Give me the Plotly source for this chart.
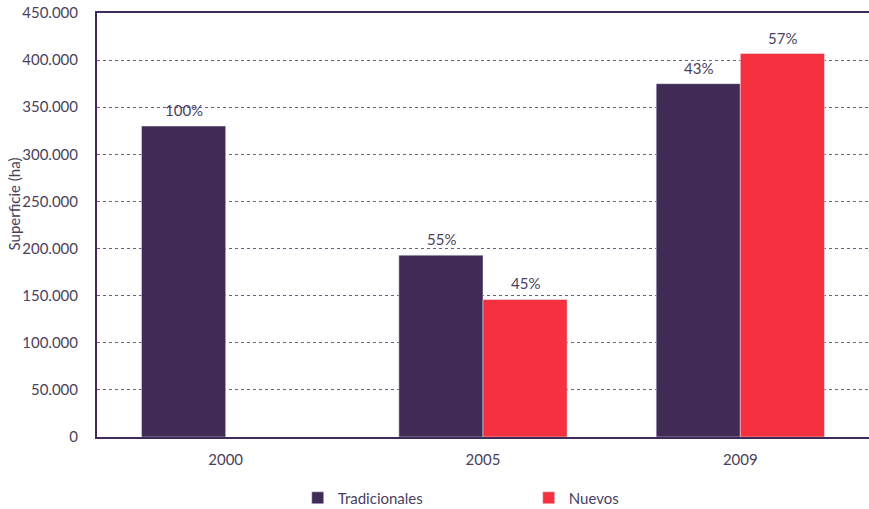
import plotly.graph_objects as go

years = ["2000", "2005", "2009"]
tradicionales = [330000, 193000, 375000]
nuevos = [None, 146000, 407000]
trad_labels = ["100%", "55%", "43%"]
nuevos_labels = ["", "45%", "57%"]
y_ticks = [0, 50000, 100000, 150000, 200000, 250000, 300000, 350000, 400000, 450000]

PURPLE = "#3F2B56"
RED = "#F5303F"
TEXT = "#4A3F5C"
FONT = "Lato"

fig = go.Figure()
fig.add_trace(go.Bar(name="Tradicionales", x=years, y=tradicionales, marker_color=PURPLE))
fig.add_trace(go.Bar(name="Nuevos", x=years, y=nuevos, marker_color=RED))

# value labels above the bars (x given as category index)
for i, (v, lab) in enumerate(zip(tradicionales, trad_labels)):
    if v is not None and lab:
        fig.add_annotation(x=i, y=v, text=lab, showarrow=False, xshift=-42,
                           yanchor="bottom", yshift=5,
                           font=dict(family=FONT, size=15, color=TEXT))
for i, (v, lab) in enumerate(zip(nuevos, nuevos_labels)):
    if v is not None and lab:
        fig.add_annotation(x=i, y=v, text=lab, showarrow=False, xshift=42,
                           yanchor="bottom", yshift=5,
                           font=dict(family=FONT, size=15, color=TEXT))

# y-axis title (placed slightly above centre as in the reference)
fig.add_annotation(xref="paper", yref="paper", x=-0.108, y=0.55, text="Superficie (ha)",
                   textangle=-90, showarrow=False, xanchor="center", yanchor="middle",
                   font=dict(family=FONT, size=15, color=TEXT))

fig.update_layout(
    width=869, height=509,
    margin=dict(l=97, r=0, t=13, b=72, autoexpand=False),
    paper_bgcolor="white", plot_bgcolor="white",
    barmode="group", bargap=0.346, bargroupgap=0,
    separators=",.",
    font=dict(family=FONT, size=15, color=TEXT),
    showlegend=True,
    hovermode=False,
    legend=dict(orientation="h", x=0.26, xanchor="left", y=-0.144, yanchor="middle",
                entrywidth=186, entrywidthmode="pixels",
                font=dict(family=FONT, size=15, color=TEXT)),
    xaxis=dict(type="category", showline=True, mirror=True, linecolor=PURPLE, linewidth=2,
               showgrid=False, ticks="", ticklabelstandoff=8,
               tickfont=dict(family=FONT, size=15, color=TEXT)),
    yaxis=dict(range=[0, 450000], tickvals=y_ticks, tickformat=",d",
               showline=True, linecolor=PURPLE, linewidth=2,
               showgrid=True, gridcolor="#6A5F7C", griddash="dot", gridwidth=1,
               zeroline=False, ticks="", ticklabelstandoff=14, ticklabeloverflow="allow",
               tickfont=dict(family=FONT, size=15, color=TEXT)),
)

# remove the default 8px page margin so the figure fills the window exactly
fig.write_html("out.html", config={"displayModeBar": False},
               post_script="document.body.style.margin='0';")
